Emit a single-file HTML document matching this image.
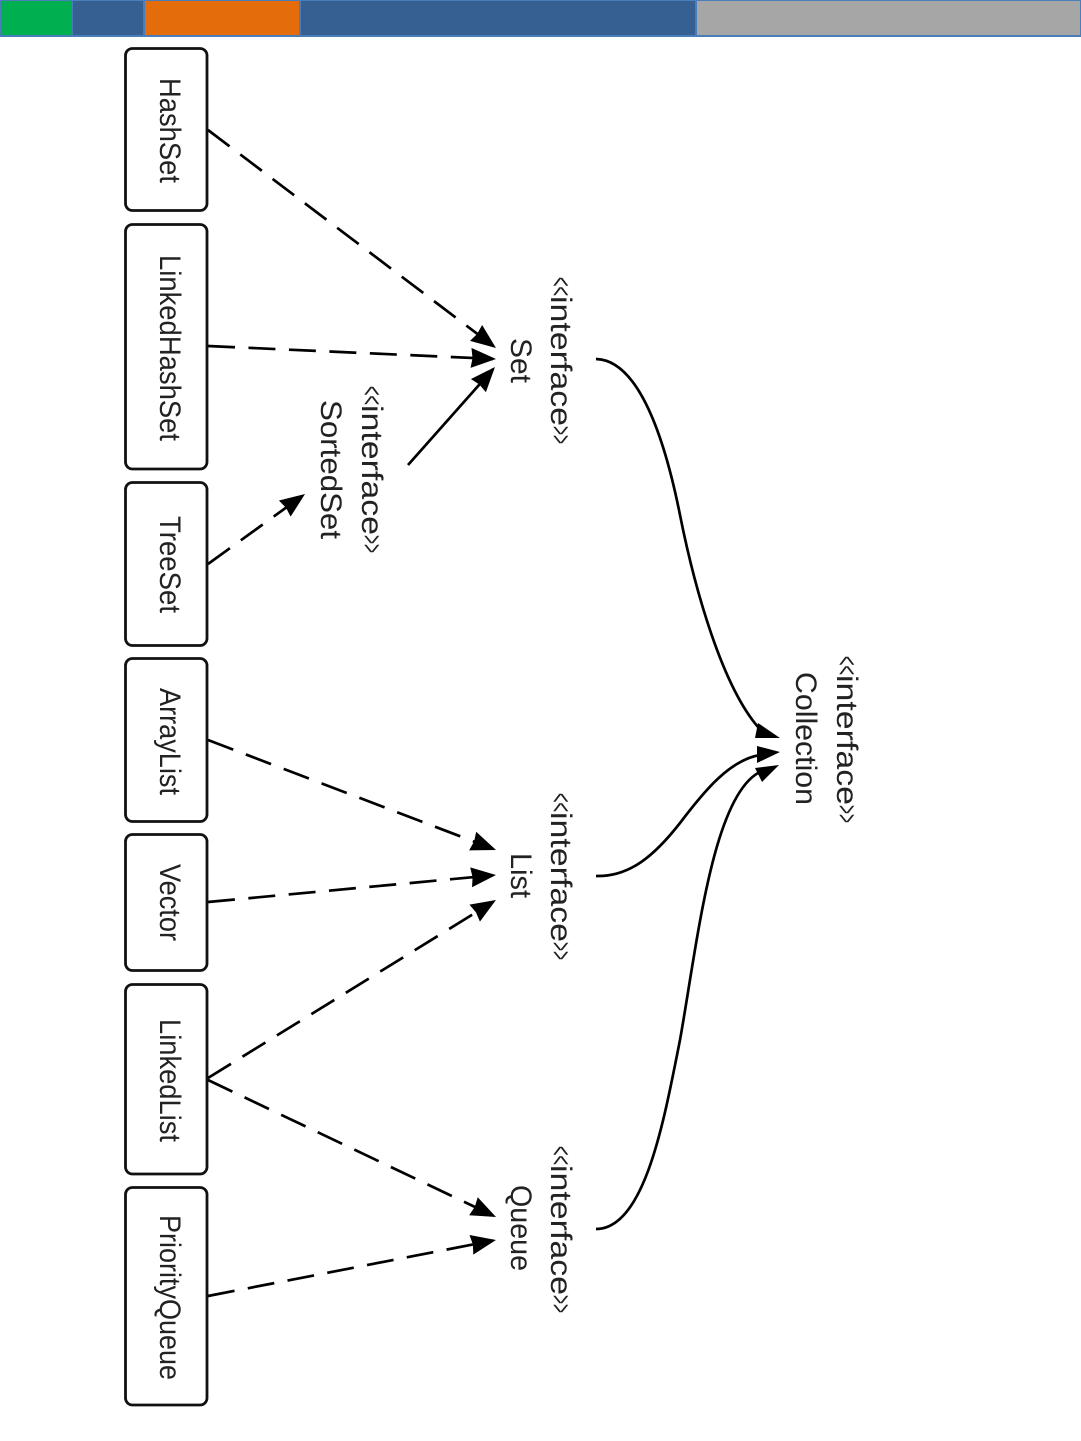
<!DOCTYPE html>
<html>
<head>
<meta charset="utf-8">
<style>
html,body{margin:0;padding:0;background:#fff;}
svg{display:block;}
text{font-family:"Liberation Sans",sans-serif;font-size:30px;fill:#222;}
</style>
</head>
<body>
<svg width="1081" height="1441" viewBox="0 0 1081 1441" xmlns="http://www.w3.org/2000/svg">
<defs>
<marker id="a" markerUnits="userSpaceOnUse" markerWidth="28" markerHeight="22" refX="22" refY="10" orient="auto">
<path d="M0,0 L25,10 L0,20 L1.500,10 Z" fill="#000"/>
</marker>
</defs>
<rect x="0" y="0" width="1081" height="37" fill="#4a7ebb"/>
<rect x="1" y="1" width="71" height="34" fill="#00b050"/>
<rect x="73" y="1" width="70" height="34" fill="#376092"/>
<rect x="145" y="1" width="154" height="34" fill="#e46c0a"/>
<rect x="301" y="1" width="394" height="34" fill="#376092"/>
<rect x="697" y="1" width="383" height="34" fill="#a6a6a6"/>
<g fill="#fff" stroke="#111" stroke-width="2.800">
<rect x="125.500" y="48.500" width="81.500" height="162" rx="7"/>
<rect x="125.500" y="224.500" width="81.500" height="244.500" rx="7"/>
<rect x="125.500" y="482.500" width="81.500" height="163" rx="7"/>
<rect x="125.500" y="658.500" width="81.500" height="163" rx="7"/>
<rect x="125.500" y="834.500" width="81.500" height="136" rx="7"/>
<rect x="125.500" y="984.500" width="81.500" height="189.500" rx="7"/>
<rect x="125.500" y="1187.500" width="81.500" height="217.500" rx="7"/>
</g>
<g fill="none" stroke="#000" stroke-width="2.700" marker-end="url(#a)">
<path d="M208,130 L493.600,346.200" stroke-dasharray="27 13.500"/>
<path d="M208,346 L493,358.900" stroke-dasharray="27 13.500"/>
<path d="M208,564 L302.600,495.700" stroke-dasharray="27 13.500"/>
<path d="M408,465 L493,369.200"/>
<path d="M208,740 L493.200,848.900" stroke-dasharray="27 13.500"/>
<path d="M208,902 L493,875.300" stroke-dasharray="27 13.500"/>
<path d="M208,1078 L493.400,901.600" stroke-dasharray="27 13.500"/>
<path d="M208,1080 L493.300,1215.700" stroke-dasharray="27 13.500"/>
<path d="M208,1296 L493,1240.600" stroke-dasharray="27 13.500"/>
</g>
<g fill="none" stroke="#000" stroke-width="2.700">
<path d="M596,359 C635,360 662,425 680,515 C695,590 722,685 758,727"/>
<path d="M596,876 C630,877 655,855 680,823 C705,790 730,760 760,755"/>
<path d="M596,1229 C645,1229 664,1120 680,1040 C697,945 712,800 758,773"/>
</g>
<g fill="#000">
<polygon points="758,723 780,738 755,738"/>
<polygon points="757,746 780,752 757,763"/>
<polygon points="755,768 779,765 762,782"/>
</g>
<text transform="translate(160,78) rotate(90)" textLength="105" lengthAdjust="spacingAndGlyphs">HashSet</text>
<text transform="translate(160,255) rotate(90)" textLength="186" lengthAdjust="spacingAndGlyphs">LinkedHashSet</text>
<text transform="translate(160,516) rotate(90)" textLength="97" lengthAdjust="spacingAndGlyphs">TreeSet</text>
<text transform="translate(160,688) rotate(90)" textLength="107" lengthAdjust="spacingAndGlyphs">ArrayList</text>
<text transform="translate(160,864) rotate(90)" textLength="77" lengthAdjust="spacingAndGlyphs">Vector</text>
<text transform="translate(160,1019) rotate(90)" textLength="123" lengthAdjust="spacingAndGlyphs">LinkedList</text>
<text transform="translate(160,1215) rotate(90)" textLength="165" lengthAdjust="spacingAndGlyphs">PriorityQueue</text>

<text transform="translate(551,277) rotate(90)" textLength="19" lengthAdjust="spacingAndGlyphs">&lt;&lt;</text>
<text transform="translate(551,296) rotate(90)" textLength="130" lengthAdjust="spacingAndGlyphs">interface</text>
<text transform="translate(551,426) rotate(90)" textLength="18" lengthAdjust="spacingAndGlyphs">&gt;&gt;</text>
<text transform="translate(511,338) rotate(90)" textLength="45" lengthAdjust="spacingAndGlyphs">Set</text>

<text transform="translate(362,386) rotate(90)" textLength="19" lengthAdjust="spacingAndGlyphs">&lt;&lt;</text>
<text transform="translate(362,405) rotate(90)" textLength="130" lengthAdjust="spacingAndGlyphs">interface</text>
<text transform="translate(362,535) rotate(90)" textLength="18" lengthAdjust="spacingAndGlyphs">&gt;&gt;</text>
<text transform="translate(321,400) rotate(90)" textLength="139" lengthAdjust="spacingAndGlyphs">SortedSet</text>

<text transform="translate(551,793) rotate(90)" textLength="19" lengthAdjust="spacingAndGlyphs">&lt;&lt;</text>
<text transform="translate(551,812) rotate(90)" textLength="130" lengthAdjust="spacingAndGlyphs">interface</text>
<text transform="translate(551,942) rotate(90)" textLength="18" lengthAdjust="spacingAndGlyphs">&gt;&gt;</text>
<text transform="translate(511,853) rotate(90)" textLength="45" lengthAdjust="spacingAndGlyphs">List</text>

<text transform="translate(551,1146) rotate(90)" textLength="19" lengthAdjust="spacingAndGlyphs">&lt;&lt;</text>
<text transform="translate(551,1165) rotate(90)" textLength="130" lengthAdjust="spacingAndGlyphs">interface</text>
<text transform="translate(551,1295) rotate(90)" textLength="18" lengthAdjust="spacingAndGlyphs">&gt;&gt;</text>
<text transform="translate(511,1185) rotate(90)" textLength="86" lengthAdjust="spacingAndGlyphs">Queue</text>

<text transform="translate(837,656) rotate(90)" textLength="19" lengthAdjust="spacingAndGlyphs">&lt;&lt;</text>
<text transform="translate(837,675) rotate(90)" textLength="130" lengthAdjust="spacingAndGlyphs">interface</text>
<text transform="translate(837,805) rotate(90)" textLength="18" lengthAdjust="spacingAndGlyphs">&gt;&gt;</text>
<text transform="translate(796,672) rotate(90)" textLength="133" lengthAdjust="spacingAndGlyphs">Collection</text>
</svg>
</body>
</html>
